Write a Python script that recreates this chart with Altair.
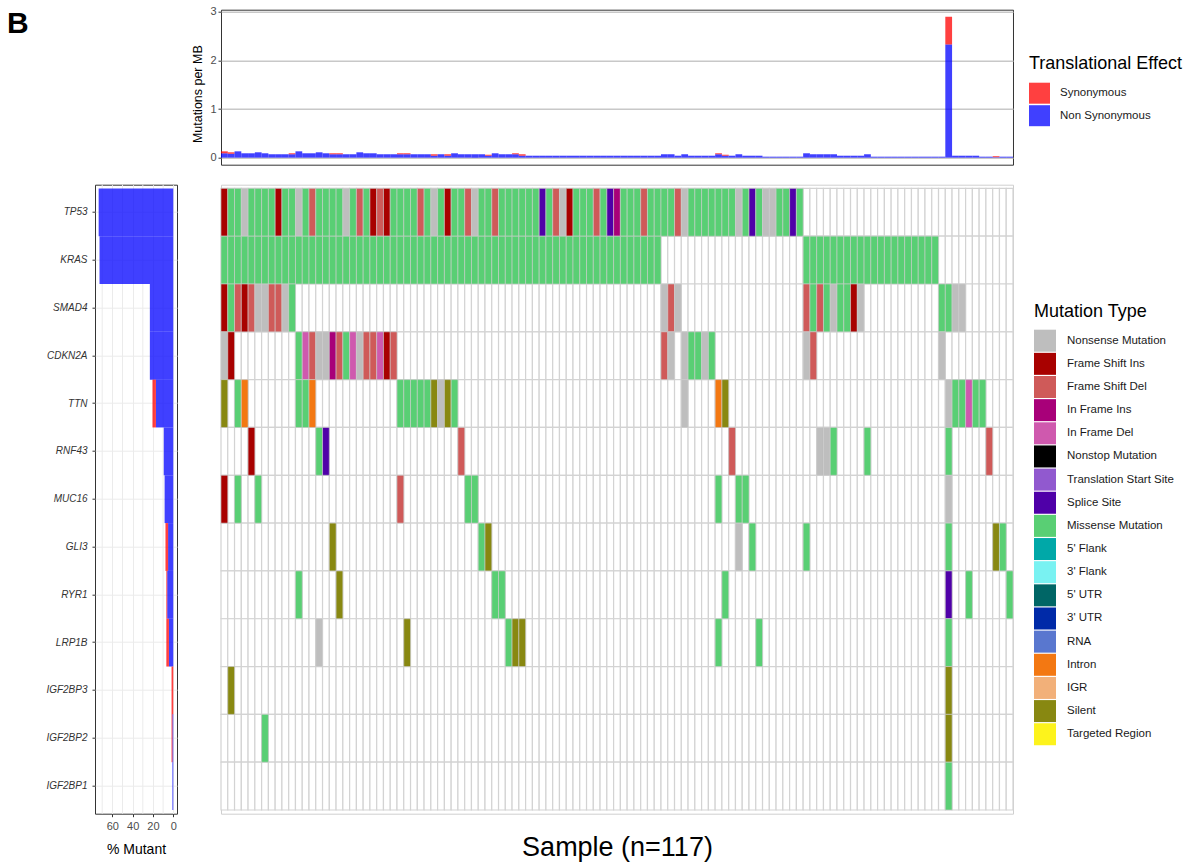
import altair as alt
import pandas as pd

FONT = "Liberation Sans"

genes = ["TP53", "KRAS", "SMAD4", "CDKN2A", "TTN", "RNF43", "MUC16",
         "GLI3", "RYR1", "LRP1B", "IGF2BP3", "IGF2BP2", "IGF2BP1"]
n_samples = 117
samples = ["S%03d" % (i + 1) for i in range(n_samples)]

mutation_types = ["Nonsense Mutation", "Frame Shift Ins", "Frame Shift Del", "In Frame Ins",
                  "In Frame Del", "Nonstop Mutation", "Translation Start Site", "Splice Site",
                  "Missense Mutation", "5' Flank", "3' Flank", "5' UTR", "3' UTR", "RNA",
                  "Intron", "IGR", "Silent", "Targeted Region"]
mutation_colors = ["#bebebe", "#a80100", "#cf5a59", "#a80079", "#cf59ae", "#000000", "#9159cf",
                   "#4f00a8", "#59cf74", "#00a8a8", "#79f2f2", "#006666", "#002aa8", "#5977cf",
                   "#f37812", "#f2b079", "#888811", "#fdf31c"]
codes = {"N": "Nonsense Mutation", "I": "Frame Shift Ins", "D": "Frame Shift Del",
         "i": "In Frame Ins", "d": "In Frame Del", "S": "Splice Site",
         "M": "Missense Mutation", "T": "Intron", "s": "Silent"}

# one character per sample (groups of ten), '.' = no mutation
gene_calls = {
    "TP53":    "IMMNMMMMIM MNMDMMMMNM DMIDIMMMMD MNMIMMDNMM DMMMMMMSMD NIMMMDMSiM MMDMMMMDNM MMMMMMNMSM NNMMSM.... .......... .......... .......",
    "KRAS":    "MMMMMMMMMM MMMMMMMMMM MMMMMMMMMM MMMMMMMMMM MMMMMMMMMM MMMMMMMMMM MMMMM..... .......... ......MMMM MMMMMMMMMM MMMMMM.... .......",
    "SMAD4":   "IMDIDNNDDN M......... .......... .......... .......... .......... .....NDN.. .......... ......DMDM NMMIN..... ......MMNN .......",
    "CDKN2A":  "NI........ .MdDNNiDMd NDDdID.... .......... .......... .......... .....DN.NM MNM....... ......ND.. .......... ......N... .......",
    "TTN":     "s.MT...... .MMT...... ......MMMM MsNsM..... .......... .......... ........N. ...Ts..... .......... .......... .......NMM dMM....",
    "RNF43":   "....I..... ....MS.... .......... .....D.... .......... .......... .......... .....D.... ........NN M....M.... .......M.. ...D...",
    "MUC16":   "I.M..M.... .......... ......D... ......MM.. .......... .......... .......... ...M..MM.. .......... .......... .......N.. .......",
    "GLI3":    ".......... ......s... .......... ........Ms .......... .......... .......... ......N.M. ......M... .......... .......M.. ....sM.",
    "RYR1":    ".......... .M.....s.. .......... .......... MM........ .......... .......... ....M..... .......... .......... .......S.. M.....M",
    "LRP1B":   ".......... ....N..... .......s.. .......... ..Mss..... .......... .......... ...M.....M .......... .......... .......M.. .......",
    "IGF2BP3": ".s........ .......... .......... .......... .......... .......... .......... .......... .......... .......... .......s.. .......",
    "IGF2BP2": "......M... .......... .......... .......... .......... .......... .......... .......... .......... .......... .......s.. .......",
    "IGF2BP1": ".......... .......... .......... .......... .......... .......... .......... .......... .......... .......... .......M.. .......",
}

# mutations per MB (top panel)
nonsyn_per_mb = [0.09, 0.08, 0.13, 0.09, 0.09, 0.11, 0.09, 0.07, 0.07, 0.07,
                 0.07, 0.13, 0.09, 0.09, 0.11, 0.09, 0.07, 0.07, 0.07, 0.07,
                 0.11, 0.09, 0.09, 0.07, 0.07, 0.07, 0.07, 0.07, 0.07, 0.07,
                 0.07, 0.04, 0.07, 0.04, 0.09, 0.07, 0.07, 0.07, 0.07, 0.04,
                 0.09, 0.07, 0.07, 0.07, 0.04, 0.04, 0.04, 0.04, 0.04, 0.04,
                 0.04, 0.04, 0.04, 0.04, 0.04, 0.04, 0.04, 0.04, 0.04, 0.04,
                 0.04, 0.04, 0.04, 0.04, 0.04, 0.07, 0.07, 0.04, 0.07, 0.04,
                 0.04, 0.04, 0.04, 0.07, 0.04, 0.04, 0.07, 0.04, 0.04, 0.04,
                 0.02, 0.02, 0.02, 0.02, 0.02, 0.02, 0.09, 0.07, 0.07, 0.07,
                 0.07, 0.04, 0.04, 0.04, 0.04, 0.07, 0.02, 0.02, 0.02, 0.02,
                 0.02, 0.02, 0.02, 0.02, 0.02, 0.02, 0.02, 2.33, 0.04, 0.04,
                 0.04, 0.04, 0.02, 0.02, 0.01, 0.02, 0.02]
syn_per_mb = [0.04, 0.03, 0, 0, 0, 0, 0, 0, 0, 0,
              0.02, 0, 0, 0, 0, 0, 0.02, 0.02, 0, 0,
              0, 0, 0, 0, 0, 0, 0.02, 0.02, 0, 0,
              0, 0.03, 0, 0.03, 0, 0, 0, 0, 0, 0.02,
              0, 0, 0, 0.02, 0.03, 0, 0, 0, 0, 0,
              0, 0, 0, 0, 0, 0, 0, 0, 0, 0,
              0, 0, 0, 0, 0, 0, 0, 0, 0, 0,
              0, 0, 0, 0.02, 0.02, 0, 0, 0, 0, 0,
              0, 0, 0, 0, 0, 0, 0, 0, 0, 0,
              0, 0, 0, 0, 0, 0, 0, 0, 0, 0,
              0, 0, 0, 0, 0, 0, 0, 0.57, 0, 0,
              0, 0, 0, 0, 0.02, 0, 0]

effects = ["Synonymous", "Non Synonymous"]
effect_colors = ["#ff0000", "#0000ff"]
minor_grid = [10, 30, 50, 70]

# ---------------- data tables ----------------
mut_rows = []
for g in genes:
    s = gene_calls[g].replace(" ", "")
    assert len(s) == n_samples, g
    for i, c in enumerate(s):
        if c != ".":
            mut_rows.append({"sample": samples[i], "gene": g, "type": codes[c]})
mut = pd.DataFrame(mut_rows)
grid = pd.DataFrame([{"sample": s, "gene": g} for g in genes for s in samples])

left_rows = []
for g in genes:
    sub = mut[mut["gene"] == g]
    n_syn = int((sub["type"] == "Silent").sum())
    n_non = len(sub) - n_syn
    p_non = 100.0 * n_non / n_samples
    p_syn = 100.0 * n_syn / n_samples
    left_rows.append({"gene": g, "effect": "Non Synonymous", "start": 0.0, "end": p_non})
    left_rows.append({"gene": g, "effect": "Synonymous", "start": p_non, "end": p_non + p_syn})
left_df = pd.DataFrame(left_rows)

top_rows = []
for i, s in enumerate(samples):
    top_rows.append({"sample": s, "effect": "Non Synonymous", "start": 0.0, "end": nonsyn_per_mb[i]})
    top_rows.append({"sample": s, "effect": "Synonymous", "start": nonsyn_per_mb[i],
                     "end": nonsyn_per_mb[i] + syn_per_mb[i]})
top_df = pd.DataFrame(top_rows)

# ---------------- geometry ----------------
W_MAIN, H_MAIN = 792, 629
W_LEFT, H_TOP = 82, 155
Y_PAD_OUTER = 0.077

# ---------------- top panel ----------------
top = alt.Chart(top_df).mark_bar(opacity=0.75).encode(
    x=alt.X("sample:N", sort=samples, scale=alt.Scale(paddingInner=0, paddingOuter=0), axis=None),
    y=alt.Y("start:Q", scale=alt.Scale(domain=[-0.145, 3.045], nice=False, zero=False),
            axis=alt.Axis(values=[0, 1, 2, 3], title="Mutations per MB", titleFontSize=12.5,
                          titleFontWeight="normal", titleColor="black", titlePadding=5,
                          titleY=84,
                          labelFontSize=11, labelColor="#4d4d4d", labelPadding=2,
                          tickSize=3, tickColor="#333333", domain=False,
                          grid=True, gridColor="#c8c8c8", gridWidth=1.4)),
    y2="end:Q",
    color=alt.Color("effect:N", scale=alt.Scale(domain=effects, range=effect_colors),
                    legend=alt.Legend(title="Translational Effect", orient="none",
                                      legendX=808, legendY=45, titleFontSize=18,
                                      titleFontWeight="normal", titleColor="black",
                                      titlePadding=10, labelFontSize=11.5, labelColor="#1a1a1a",
                                      symbolType="square", symbolSize=441, symbolStrokeWidth=0,
                                      symbolOpacity=0.75, labelOffset=10, rowPadding=1.5,
                                      padding=0)),
).properties(width=W_MAIN, height=H_TOP,
             view=alt.ViewBackground(stroke="#333333", strokeWidth=1))

# ---------------- spacer with panel tag ----------------
spacer = alt.Chart(pd.DataFrame({"tag": ["B"]})).mark_text(
    align="left", baseline="top", fontSize=30, fontWeight="bold", color="black"
).encode(
    text="tag:N", x=alt.value(-88), y=alt.value(-1)
).properties(width=W_LEFT, height=H_TOP,
             view=alt.ViewBackground(stroke="transparent"))

# ---------------- left bar panel ----------------
y_left = alt.Y("gene:N", sort=genes,
               scale=alt.Scale(paddingInner=0, paddingOuter=Y_PAD_OUTER),
               axis=alt.Axis(title=None, labelFontStyle="italic", labelFontSize=10,
                             labelColor="#333333", labelPadding=5, tickSize=3,
                             tickColor="#333333", domain=False, grid=True,
                             gridColor="#ebebeb", bandPosition=0.5))
x_left_scale = alt.Scale(domain=[-3.67, 77.1], reverse=True, nice=False, zero=False)
x_left_axis = alt.Axis(values=[0, 20, 40, 60], title="% Mutant", titleFontSize=14,
                       titleFontWeight="normal", titleColor="black", titlePadding=11,
                       labelFontSize=11, labelColor="#4d4d4d", labelPadding=4,
                       tickSize=3, tickColor="#333333", domain=False,
                       grid=True, gridColor="#ebebeb")

left_minor = alt.Chart(pd.DataFrame({"start": minor_grid})).mark_rule(
    color="#ebebeb", strokeWidth=1
).encode(x=alt.X("start:Q", scale=x_left_scale, axis=x_left_axis))

left_bars = alt.Chart(left_df).mark_bar(opacity=0.75).encode(
    y=y_left,
    x=alt.X("start:Q", scale=x_left_scale, axis=x_left_axis),
    x2="end:Q",
    color=alt.Color("effect:N", scale=alt.Scale(domain=effects, range=effect_colors), legend=None),
)
left = alt.layer(left_minor, left_bars).properties(
    width=W_LEFT, height=H_MAIN, view=alt.ViewBackground(stroke="#333333", strokeWidth=1))

# ---------------- main heatmap ----------------
x_main = alt.X("sample:N", sort=samples, scale=alt.Scale(paddingInner=0, paddingOuter=0),
               axis=alt.Axis(title="Sample (n=117)", labels=False, ticks=False, domain=False,
                             titleFontSize=27, titleFontWeight="normal", titleColor="black",
                             titlePadding=21))
y_main = alt.Y("gene:N", sort=genes, scale=alt.Scale(paddingInner=0, paddingOuter=Y_PAD_OUTER),
               axis=None)

bg = alt.Chart(grid).mark_rect(fill="white", stroke="#d3d3d3", strokeWidth=1.2).encode(
    x=x_main, y=y_main)
cells = alt.Chart(mut).mark_rect(stroke="#cfcfcf", strokeWidth=0.6).encode(
    x=x_main, y=y_main,
    color=alt.Color("type:N", scale=alt.Scale(domain=mutation_types, range=mutation_colors),
                    legend=alt.Legend(title="Mutation Type", orient="none", legendX=813,
                                      legendY=118, titleFontSize=18, titleFontWeight="normal",
                                      titleColor="black", titlePadding=9, labelFontSize=11.5,
                                      labelColor="#1a1a1a", symbolType="square", symbolSize=484,
                                      symbolStrokeWidth=0, labelOffset=11, rowPadding=1.15,
                                      padding=0, labelLimit=300)),
)
main = alt.layer(bg, cells).properties(
    width=W_MAIN, height=H_MAIN, view=alt.ViewBackground(stroke="#cfcfcf", strokeWidth=1))

# ---------------- assemble ----------------
chart = alt.ConcatChart(
    concat=[spacer, top, left, main], columns=2,
    spacing={"row": 20, "column": 44}, bounds="flush",
    padding={"left": 6, "top": 4.7, "right": 5, "bottom": 5},
).resolve_scale(
    color="independent", x="independent", y="independent"
).configure(font=FONT, background="white")

chart.save("out.html", embed_options={"renderer": "svg", "actions": False})
